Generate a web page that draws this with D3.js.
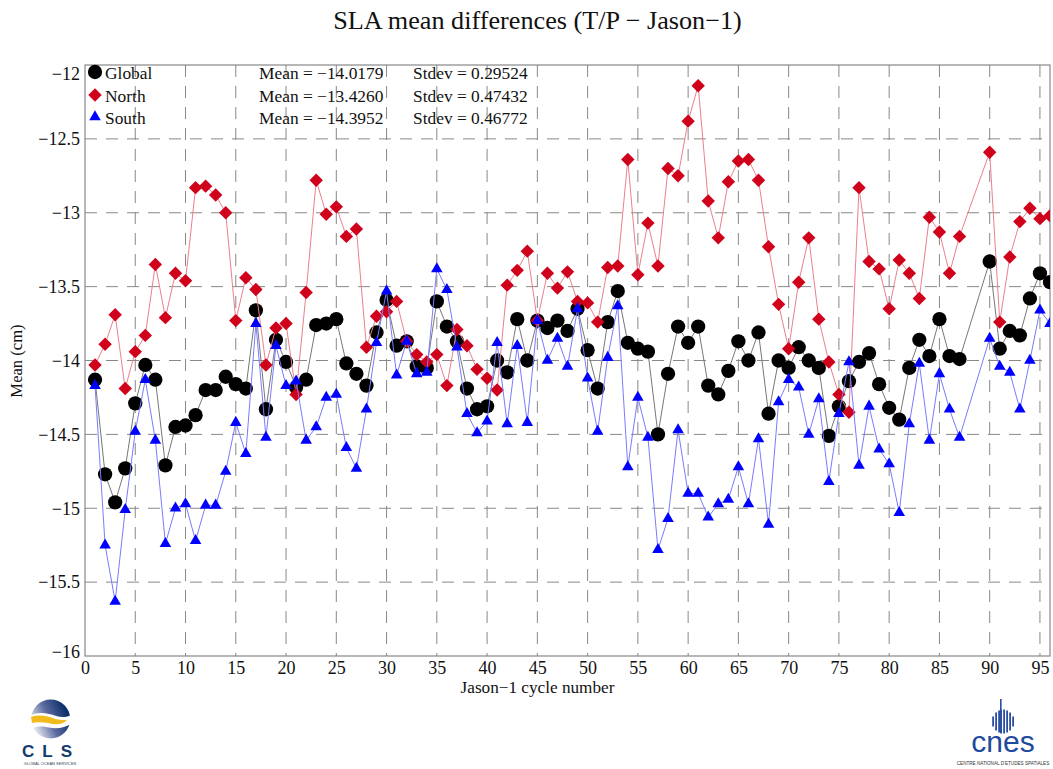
<!DOCTYPE html>
<html>
<head>
<meta charset="utf-8">
<script src="https://cdn.jsdelivr.net/npm/d3@7"></script>
<style>
html, body { margin: 0; padding: 0; background: #fff; }
svg { display: block; }
text { font-family: "Liberation Serif", serif; fill: #111; }
</style>
</head>
<body>
<svg width="1053" height="769"></svg>
<script>
var cycles = [];
for (var c = 1; c <= 87; c++) cycles.push(c);
cycles = cycles.concat([90, 91, 92, 93, 94, 95, 96]);

var globalValues = [
    -14.13, -14.77, -14.96, -14.73, -14.29, -14.03, -14.13, -14.71, -14.45, -14.44,
    -14.37, -14.20, -14.20, -14.11, -14.16, -14.19, -13.66, -14.33, -13.86, -14.01,
    -14.18, -14.13, -13.76, -13.75, -13.72, -14.02, -14.09, -14.17, -13.81, -13.59,
    -13.90, -13.87, -14.04, -14.05, -13.60, -13.77, -13.87, -14.19, -14.33, -14.31,
    -14.00, -14.08, -13.72, -14.00, -13.73, -13.78, -13.73, -13.80, -13.65, -13.93,
    -14.19, -13.74, -13.53, -13.88, -13.92, -13.94, -14.50, -14.09, -13.77, -13.88,
    -13.77, -14.17, -14.23, -14.07, -13.87, -14.00, -13.81, -14.36, -14.00, -14.05,
    -13.91, -14.00, -14.05, -14.51, -14.31, -14.14, -14.01, -13.95, -14.16, -14.32,
    -14.40, -14.05, -13.86, -13.97, -13.72, -13.97, -13.99,
    -13.33, -13.92, -13.80, -13.83, -13.58, -13.41, -13.47
];
var northValues = [
    -14.03, -13.89, -13.69, -14.19, -13.94, -13.83, -13.35, -13.71, -13.41, -13.46,
    -12.83, -12.82, -12.88, -13.00, -13.73, -13.44, -13.52, -14.03, -13.78, -13.75,
    -14.23, -13.54, -12.78, -13.01, -12.96, -13.16, -13.11, -13.91, -13.70, -13.67,
    -13.60, -13.87, -13.96, -14.01, -13.96, -14.17, -13.79, -13.90, -14.06, -14.12,
    -14.20, -13.49, -13.39, -13.26, -13.73, -13.41, -13.51, -13.40, -13.60, -13.61,
    -13.74, -13.37, -13.36, -12.64, -13.42, -13.07, -13.36, -12.70, -12.75, -12.38,
    -12.14, -12.92, -13.17, -12.79, -12.65, -12.64, -12.78, -13.23, -13.62, -13.92,
    -13.47, -13.17, -13.72, -14.01, -14.23, -14.35, -12.83, -13.33, -13.38, -13.65,
    -13.32, -13.41, -13.58, -13.03, -13.13, -13.41, -13.16,
    -12.59, -13.74, -13.30, -13.06, -12.97, -13.04, -13.02
];
var southValues = [
    -14.17, -15.25, -15.63, -15.01, -14.48, -14.13, -14.54, -15.24, -15.00, -14.97,
    -15.22, -14.98, -14.98, -14.75, -14.42, -14.63, -13.75, -14.52, -13.90, -14.17,
    -14.14, -14.54, -14.45, -14.25, -14.23, -14.59, -14.73, -14.33, -13.88, -13.53,
    -14.10, -13.87, -14.09, -14.08, -13.38, -13.52, -13.91, -14.36, -14.49, -14.41,
    -13.88, -14.43, -13.90, -14.42, -13.73, -14.00, -13.85, -14.04, -13.65, -14.12,
    -14.48, -13.98, -13.63, -14.72, -14.25, -14.52, -15.28, -15.07, -14.47, -14.90,
    -14.90, -15.06, -14.97, -14.94, -14.72, -14.97, -14.53, -15.11, -14.28, -14.13,
    -14.18, -14.50, -14.26, -14.82, -14.36, -14.01, -14.71, -14.31, -14.60, -14.70,
    -15.03, -14.43, -14.02, -14.54, -14.09, -14.33, -14.52,
    -13.85, -14.04, -14.08, -14.33, -14.00, -13.66, -13.75
];

var seriesNames = ['Global', 'North', 'South'];
var seriesMeans = ['Mean = \u221214.0179', 'Mean = \u221213.4260', 'Mean = \u221214.3952'];
var seriesStdevs = ['Stdev = 0.29524', 'Stdev = 0.47432', 'Stdev = 0.46772'];
var xTicks = d3.range(0, 96, 5);
var yTicks = [-12, -12.5, -13, -13.5, -14, -14.5, -15, -15.5, -16];

var svg = d3.select('svg');
var left = 85, right = 1050, top_ = 65, bottom = 656;

var x = d3.scaleLinear().domain([0, 96]).range([left, right]);
var y = d3.scaleLinear().domain([-16, -12]).range([bottom, top_]);

var fmt = d => String(d).replace('-', '\u2212');

svg.append('clipPath').attr('id', 'plot')
    .append('rect')
    .attr('x', left).attr('y', top_ - 8)
    .attr('width', right - left).attr('height', bottom - top_ + 8);

// grid
svg.append('g').selectAll('line').data(xTicks.slice(1)).join('line')
    .attr('x1', d => x(d)).attr('x2', d => x(d))
    .attr('y1', top_).attr('y2', bottom)
    .attr('stroke', '#888').attr('stroke-dasharray', '12,9');
svg.append('g').selectAll('line').data(yTicks.slice(1, -1)).join('line')
    .attr('x1', left).attr('x2', right)
    .attr('y1', d => y(d)).attr('y2', d => y(d))
    .attr('stroke', '#888').attr('stroke-dasharray', '12,9');

// axes
var xAxis = svg.append('g')
    .attr('transform', 'translate(0,' + bottom + ')')
    .call(d3.axisBottom(x).tickValues(xTicks).tickSize(0).tickPadding(5).tickFormat(fmt));
var yAxis = svg.append('g')
    .attr('transform', 'translate(' + left + ',0)')
    .call(d3.axisLeft(y).tickValues(yTicks).tickSize(0).tickPadding(5).tickFormat(fmt));
[xAxis, yAxis].forEach(a => {
    a.select('.domain').remove();
    a.selectAll('text').style('font-family', '"Liberation Serif", serif').style('font-size', '18px').attr('fill', '#111');
});
// end labels sit inside the frame
yAxis.selectAll('.tick text').attr('dy', d => d === -12 ? '0.8em' : d === -16 ? '0.1em' : '0.32em');

svg.append('rect')
    .attr('x', left).attr('y', top_)
    .attr('width', right - left).attr('height', bottom - top_)
    .attr('fill', 'none').attr('stroke', '#888').attr('stroke-width', 1.2);

// series
var markers = [
    { color: '#000', line: '#777', draw: d3.symbol().type(d3.symbolCircle).size(160), rot: 0 },
    { color: '#d0021b', line: '#ec7f8e', draw: d3.symbol().type(d3.symbolSquare).size(90), rot: 45 },
    { color: '#0000ff', line: '#7a7aff', draw: d3.symbol().type(d3.symbolTriangle).size(58), rot: 0 }
];
var allValues = [globalValues, northValues, southValues];

var plot = svg.append('g').attr('clip-path', 'url(#plot)');
allValues.forEach((values, k) => {
    var pts = cycles.map((c, i) => [c, values[i]]);
    var line = d3.line().x(d => x(d[0])).y(d => y(d[1]));
    plot.append('path')
        .attr('d', line(pts))
        .attr('fill', 'none')
        .attr('stroke', markers[k].line)
        .attr('stroke-width', 1);
    plot.append('g').selectAll('path').data(pts).join('path')
        .attr('d', markers[k].draw())
        .attr('transform', d => 'translate(' + x(d[0]) + ',' + y(d[1]) + ') rotate(' + markers[k].rot + ')')
        .attr('fill', markers[k].color);
});

// legend
var legendY = [79, 102, 124];
seriesNames.forEach((name, k) => {
    svg.append('path')
        .attr('d', markers[k].draw())
        .attr('transform', 'translate(95,' + (legendY[k] - 7) + ') rotate(' + markers[k].rot + ')')
        .attr('fill', markers[k].color);
    svg.append('text').attr('x', 105).attr('y', legendY[k]).attr('font-size', 17.4).text(name);
    svg.append('text').attr('x', 259).attr('y', legendY[k]).attr('font-size', 17.4).text(seriesMeans[k]);
    svg.append('text').attr('x', 413).attr('y', legendY[k]).attr('font-size', 17.4).text(seriesStdevs[k]);
});

// titles
svg.append('text').attr('x', 537.5).attr('y', 28.5).attr('text-anchor', 'middle')
    .attr('font-size', 26.2).text('SLA mean differences (T/P \u2212 Jason\u22121)');
svg.append('text').attr('x', 537.5).attr('y', 693).attr('text-anchor', 'middle')
    .attr('font-size', 17.2).text('Jason\u22121 cycle number');
svg.append('text').attr('transform', 'translate(21.5,361) rotate(-90)').attr('text-anchor', 'middle')
    .attr('font-size', 16.6).text('Mean (cm)');

// CLS logo
var defs = svg.append('defs');
var grad = defs.append('linearGradient').attr('id', 'clsGrad')
    .attr('x1', 0.9).attr('y1', 0.3).attr('x2', 0.05).attr('y2', 0.7);
grad.append('stop').attr('offset', '0').attr('stop-color', '#0d2f6b');
grad.append('stop').attr('offset', '0.5').attr('stop-color', '#5a6aa0');
grad.append('stop').attr('offset', '1').attr('stop-color', '#e8eaf2');
svg.append('circle').attr('cx', 50.7).attr('cy', 719).attr('r', 19.5).attr('fill', 'url(#clsGrad)');
svg.append('path').attr('d', 'M29,716 C38,711 48,713 56,716 C62,718 67,717 72,715 L72,723 C64,729 54,729 46,727 C40,726 34,727 29,729 Z')
    .attr('fill', '#fff');
svg.append('path').attr('d', 'M31,717 C39,714 48,716 55,719 C60,720 64,720 67,720 C63,725 55,725 48,723 C42,722 36,722 32,723 Z')
    .attr('fill', '#f2bb1d');
svg.append('text').attr('x', 51).attr('y', 757).attr('text-anchor', 'middle')
    .style('font-family', '"Liberation Sans", sans-serif')
    .style('fill', '#123a6b').style('font-weight', 'bold').attr('font-size', 17).attr('letter-spacing', 8).text('CLS');
svg.append('text').attr('x', 50).attr('y', 765).attr('text-anchor', 'middle')
    .style('font-family', '"Liberation Sans", sans-serif').style('fill', '#345').attr('font-size', 4).text('GLOBAL OCEAN SERVICES');

// cnes logo
var cnesBars = [[-10, 5], [-7, 9], [-4, 11], [-2, 12], [1, 12], [4, 11], [7, 9], [10, 5]];
svg.append('g').selectAll('rect').data(cnesBars).join('rect')
    .attr('x', d => 1003 + d[0] - 0.8)
    .attr('y', d => 721.5 - d[1])
    .attr('width', 1.8)
    .attr('height', d => d[1] * 2)
    .attr('fill', '#2b4fa5');
svg.append('rect').attr('x', 1000).attr('y', 699).attr('width', 1.6).attr('height', 34).attr('fill', '#2b4fa5');
svg.append('text').attr('x', 1003).attr('y', 752).attr('text-anchor', 'middle')
    .style('font-family', '"Liberation Sans", sans-serif').style('fill', '#1f4a9c').attr('font-size', 30).text('cnes');
svg.append('text').attr('x', 1003).attr('y', 765).attr('text-anchor', 'middle')
    .style('font-family', '"Liberation Sans", sans-serif').style('fill', '#333').attr('font-size', 4.6).text('CENTRE NATIONAL D\u2019ETUDES SPATIALES');
</script>
</body>
</html>
